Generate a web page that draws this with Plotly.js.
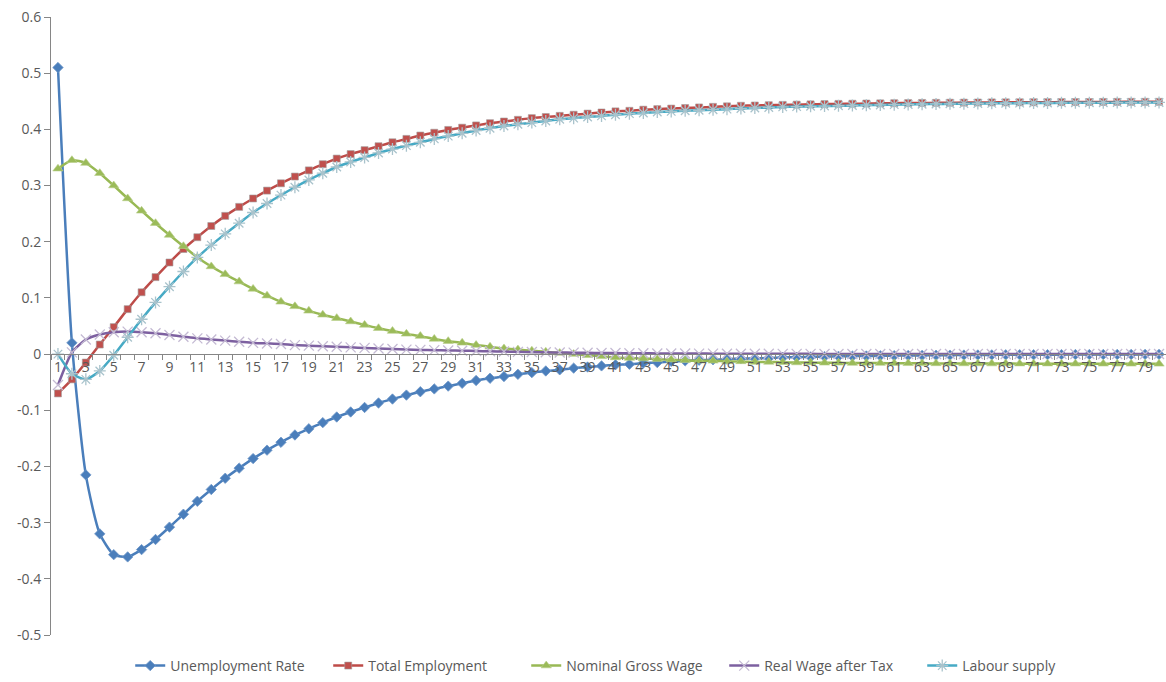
<!DOCTYPE html>
<html>
<head>
<meta charset="utf-8">
<script src="https://cdn.plot.ly/plotly-3.0.1.min.js"></script>
<style>html,body{margin:0;padding:0;background:#fff;}#chart{width:1166px;height:682px;}</style>
</head>
<body>
<div id="chart"></div>
<script>
// Periods (categories)
const periods = [1,2,3,4,5,6,7,8,9,10,11,12,13,14,15,16,17,18,19,20,21,22,23,24,25,26,27,28,29,30,31,32,33,34,35,36,37,38,39,40,41,42,43,44,45,46,47,48,49,50,51,52,53,54,55,56,57,58,59,60,61,62,63,64,65,66,67,68,69,70,71,72,73,74,75,76,77,78,79,80];
const xTickVals = [1,3,5,7,9,11,13,15,17,19,21,23,25,27,29,31,33,35,37,39,41,43,45,47,49,51,53,55,57,59,61,63,65,67,69,71,73,75,77,79];
const xTickText = ["1","3","5","7","9","11","13","15","17","19","21","23","25","27","29","31","33","35","37","39","41","43","45","47","49","51","53","55","57","59","61","63","65","67","69","71","73","75","77","79"];
const yTickVals = [0.6,0.5,0.4,0.3,0.2,0.1,0,-0.1,-0.2,-0.3,-0.4,-0.5];
const yTickText = ["0.6","0.5","0.4","0.3","0.2","0.1","0","-0.1","-0.2","-0.3","-0.4","-0.5"];

const unemploymentRate = [0.510,0.020,-0.215,-0.320,-0.357,-0.361,-0.348,-0.330,-0.308,-0.285,-0.262,-0.241,-0.221,-0.203,-0.186,-0.171,-0.157,-0.144,-0.133,-0.122,-0.112,-0.103,-0.095,-0.087,-0.080,-0.073,-0.067,-0.062,-0.057,-0.052,-0.047,-0.043,-0.040,-0.036,-0.033,-0.030,-0.028,-0.025,-0.023,-0.021,-0.019,-0.018,-0.016,-0.015,-0.013,-0.012,-0.011,-0.010,-0.009,-0.008,-0.0075,-0.007,-0.006,-0.0055,-0.005,-0.0045,-0.004,-0.0037,-0.0034,-0.003,-0.0028,-0.0025,-0.0023,-0.0021,-0.0019,-0.0017,-0.0016,-0.0014,-0.0013,-0.0012,-0.0011,-0.001,-0.0009,-0.0008,-0.0008,-0.0007,-0.0006,-0.0006,-0.0005,-0.0005];
const totalEmployment = [-0.070,-0.045,-0.015,0.017,0.048,0.080,0.110,0.137,0.163,0.187,0.208,0.228,0.246,0.262,0.277,0.291,0.304,0.316,0.327,0.338,0.348,0.356,0.363,0.370,0.377,0.383,0.389,0.394,0.399,0.403,0.407,0.411,0.414,0.417,0.420,0.422,0.424,0.426,0.428,0.430,0.432,0.433,0.435,0.436,0.437,0.438,0.439,0.440,0.441,0.442,0.4425,0.443,0.4435,0.444,0.4445,0.445,0.4453,0.4456,0.446,0.4463,0.4466,0.4468,0.447,0.4472,0.4474,0.4476,0.4478,0.448,0.4481,0.4482,0.4483,0.4484,0.4485,0.4486,0.4487,0.4488,0.4489,0.449,0.449,0.449];
const nominalGrossWage = [0.330,0.345,0.340,0.322,0.300,0.277,0.255,0.233,0.212,0.192,0.172,0.156,0.142,0.129,0.116,0.104,0.093,0.085,0.077,0.070,0.064,0.058,0.052,0.046,0.041,0.036,0.032,0.027,0.023,0.020,0.016,0.013,0.010,0.008,0.006,0.004,0.002,0.000,-0.002,-0.004,-0.006,-0.007,-0.008,-0.009,-0.010,-0.011,-0.012,-0.012,-0.013,-0.013,-0.014,-0.014,-0.0145,-0.015,-0.015,-0.0155,-0.0155,-0.016,-0.016,-0.016,-0.0163,-0.0164,-0.0165,-0.0166,-0.0167,-0.0168,-0.0168,-0.0169,-0.0169,-0.017,-0.017,-0.017,-0.0171,-0.0171,-0.0172,-0.0172,-0.0173,-0.0173,-0.0174,-0.0174];
const realWageAfterTax = [-0.055,0.003,0.026,0.035,0.039,0.040,0.039,0.037,0.034,0.031,0.028,0.026,0.024,0.022,0.020,0.019,0.018,0.016,0.015,0.014,0.013,0.012,0.011,0.010,0.009,0.008,0.0075,0.007,0.0065,0.006,0.0055,0.005,0.0045,0.004,0.0036,0.0032,0.0029,0.0026,0.0023,0.002,0.0018,0.0016,0.0014,0.0012,0.0011,0.001,0.0009,0.0008,0.0007,0.0006,0.0005,0.0005,0.0004,0.0004,0.0004,0.0003,0.0003,0.0003,0.0003,0.0002,0.0002,0.0002,0.0002,0.0002,0.0002,0.0001,0.0001,0.0001,0.0001,0.0001,0.0001,0.0001,0.0001,0.0001,0.0001,0.0001,0.0001,0.0001,0.0001,0.0001];
const labourSupply = [0.000,-0.035,-0.045,-0.030,-0.002,0.030,0.062,0.092,0.120,0.147,0.172,0.194,0.214,0.233,0.252,0.268,0.283,0.297,0.310,0.322,0.333,0.342,0.350,0.358,0.365,0.371,0.377,0.383,0.388,0.393,0.398,0.402,0.406,0.409,0.412,0.415,0.418,0.420,0.422,0.424,0.426,0.428,0.429,0.431,0.432,0.433,0.434,0.435,0.436,0.437,0.438,0.439,0.440,0.4405,0.441,0.4415,0.442,0.4425,0.443,0.4435,0.444,0.4444,0.4448,0.4452,0.4455,0.4458,0.446,0.4463,0.4465,0.4467,0.4469,0.447,0.4472,0.4473,0.4474,0.4475,0.4476,0.4477,0.4478,0.4479];

const FONT = "Open Sans, Liberation Sans, sans-serif";
function tr(name, y, color, symbol, msize, mcolor, mline) {
  return {
    type: 'scatter', mode: 'lines+markers', name: name, x: periods, y: y,
    line: {color: color, width: 2.5, shape: 'spline', smoothing: 0.6},
    marker: {symbol: symbol, size: msize, color: mcolor, line: mline}
  };
}
const data = [
  tr('Unemployment Rate', unemploymentRate, '#4A7EBB', 'diamond', 8, '#4A7EBB', {color:'#6f97c8', width:0.8}),
  tr('Total Employment', totalEmployment, '#BE4B48', 'square', 7, '#C0504D', {color:'#a0a0a0', width:0.6}),
  tr('Nominal Gross Wage', nominalGrossWage, '#98B954', 'triangle-up', 9, '#9BBB59', {color:'#b8cf8c', width:0.6}),
  tr('Real Wage after Tax', realWageAfterTax, '#7D60A0', 'x-thin-open', 10, '#c4bad3', {color:'#c4bad3', width:1.3}),
  tr('Labour supply', labourSupply, '#46AAC5', 'asterisk-open', 10, '#a9c3cc', {color:'#a9c3cc', width:1.3})
];
const layout = {
  width: 1166, height: 682,
  margin: {l: 51, r: 0, t: 17, b: 44},
  paper_bgcolor: '#fff', plot_bgcolor: '#fff',
  font: {family: FONT, size: 14, color: '#595959'},
  showlegend: true,
  legend: {orientation: 'h', x: 0.515, xanchor: 'center', y: -0.051, yanchor: 'middle',
           font: {family: FONT, size: 14, color: '#595959'}, itemwidth: 30, tracegroupgap: 0,
           entrywidth: 153, entrywidthmode: 'pixels'},
  xaxis: {
    range: [0.5, 80.5], anchor: 'free', position: 0.5/1.1,
    showgrid: false, zeroline: false, showline: true, linecolor: '#868686', linewidth: 1,
    tickmode: 'array', tickvals: xTickVals, ticktext: xTickText, ticks: '',
    tickfont: {family: FONT, size: 14, color: '#595959'},
    minor: {ticks: 'outside', tick0: 0.5, dtick: 1, ticklen: 5, tickcolor: '#868686', showgrid: false}
  },
  yaxis: {
    range: [-0.5, 0.6], domain: [0, 1],
    showgrid: false, zeroline: false, showline: true, linecolor: '#868686', linewidth: 1,
    tickmode: 'array', tickvals: yTickVals, ticktext: yTickText,
    ticks: 'outside', ticklen: 6, tickcolor: '#868686',
    tickfont: {family: FONT, size: 14, color: '#595959'}
  }
};
Plotly.newPlot('chart', data, layout, {displayModeBar: false, staticPlot: true});
</script>
</body>
</html>
